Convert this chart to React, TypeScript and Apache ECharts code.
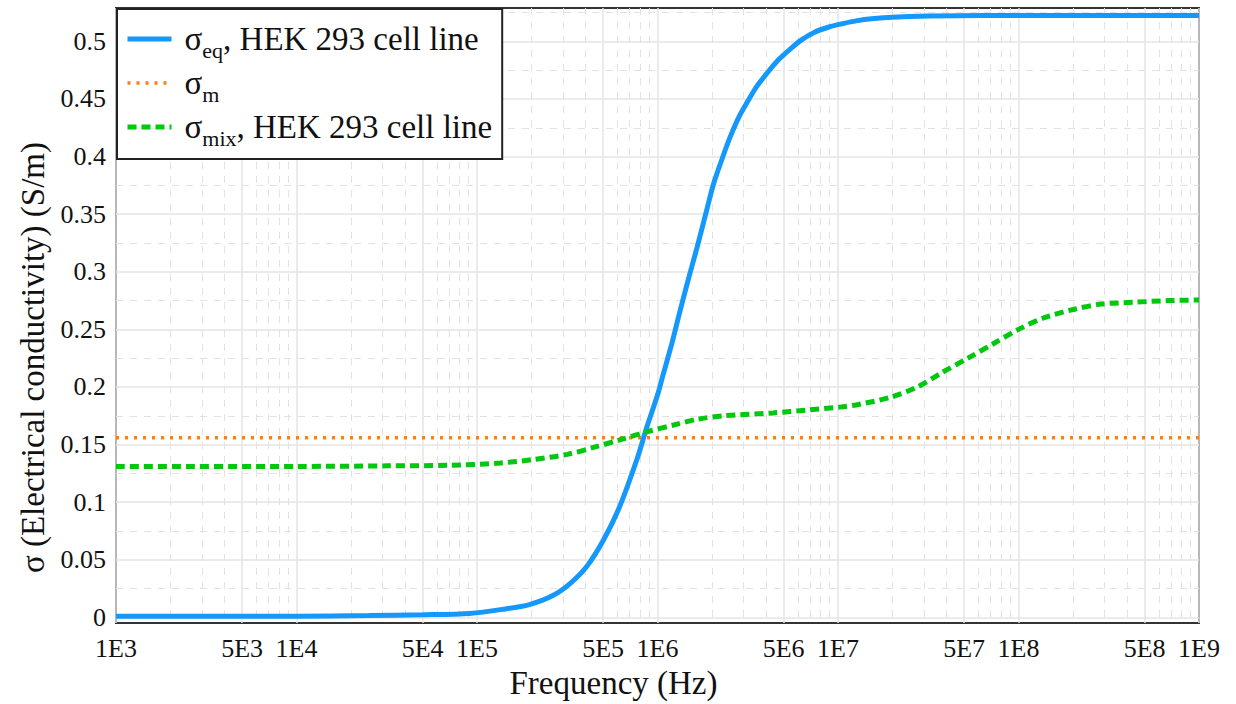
import React, { useEffect, useRef } from "react";
import * as echarts from "echarts";

// log10(frequency in Hz) and conductivity (S/m)
const logFreqEq = [3, 3.5, 4, 4.4, 4.7, 4.96, 5.14, 5.29, 5.42, 5.52, 5.61, 5.7, 5.79, 5.89, 5.94, 6.0, 6.03, 6.08, 6.12, 6.17, 6.22, 6.27, 6.31, 6.36, 6.4, 6.45, 6.5, 6.55, 6.61, 6.67, 6.74, 6.8, 6.87, 6.95, 7.02, 7.1, 7.2, 7.3, 7.5, 7.8, 8.2, 9];
const sigmaEq = [0.001, 0.001, 0.001, 0.0015, 0.0022, 0.0034, 0.0069, 0.0111, 0.0189, 0.03, 0.0446, 0.0669, 0.096, 0.139, 0.1647, 0.193, 0.21, 0.238, 0.263, 0.293, 0.3216, 0.352, 0.376, 0.399, 0.416, 0.434, 0.448, 0.461, 0.473, 0.484, 0.494, 0.5015, 0.508, 0.5125, 0.5152, 0.5178, 0.5198, 0.521, 0.522, 0.5225, 0.5225, 0.5225];

const logFreqMix = [3, 4, 4.5, 4.85, 5.13, 5.31, 5.5, 5.645, 5.79, 5.94, 6.09, 6.22, 6.37, 6.64, 6.83, 7.01, 7.12, 7.29, 7.44, 7.57, 7.72, 7.86, 8.0, 8.14, 8.31, 8.46, 8.64, 8.83, 9];
const sigmaMix = [0.131, 0.131, 0.1315, 0.132, 0.134, 0.137, 0.1415, 0.1475, 0.154, 0.161, 0.167, 0.172, 0.175, 0.1775, 0.18, 0.1825, 0.185, 0.191, 0.2, 0.212, 0.225, 0.2375, 0.25, 0.26, 0.2675, 0.272, 0.2735, 0.275, 0.2755];

const logFreqM = [3, 9];
const sigmaM = [0.156, 0.156];

const seriesNames = ["σeq, HEK 293 cell line", "σm", "σmix, HEK 293 cell line"];

const xMajorTicks = [3, 3.69897, 4, 4.69897, 5, 5.69897, 6, 6.69897, 7, 7.69897, 8, 8.69897, 9];
const xMajorLabels = ["1E3", "5E3", "1E4", "5E4", "1E5", "5E5", "1E6", "5E6", "1E7", "5E7", "1E8", "5E8", "1E9"];
const minorMantissas = [2, 3, 4, 6, 7, 8, 9];
const decades = [3, 4, 5, 6, 7, 8];
const xMinorTicks: number[] = [];
decades.forEach((d) => minorMantissas.forEach((m) => xMinorTicks.push(d + Math.log10(m))));

const yMajorTicks = [0, 0.05, 0.1, 0.15, 0.2, 0.25, 0.3, 0.35, 0.4, 0.45, 0.5];
const yMinorTicks = [0.025, 0.075, 0.125, 0.175, 0.225, 0.275, 0.325, 0.375, 0.425, 0.475, 0.525];

const FONT = "'Liberation Serif', 'Liberation Sans', sans-serif";

const BLUE = "#1598fb";
const ORANGE = "#ff7f0e";
const GREEN = "#00c80f";

const zip = (xs: number[], ys: number[]) => xs.map((x, i) => [x, ys[i]]);

export default function App() {
  const ref = useRef<HTMLDivElement>(null);
  useEffect(() => {
    if (!ref.current) return;
    const chart = echarts.init(ref.current, null, { renderer: "svg" });
    const majorGrid = { show: true, lineStyle: { color: "#e4e4e4", width: 1.5 } };
    const minorGrid = { show: true, lineStyle: { color: "#e2e2e2", width: 1, type: [7, 7] } };
    const legendRich: Record<string, string> = {
      [seriesNames[0]]: "{s|σ}{sub|eq}{s|, HEK 293 cell line}",
      [seriesNames[1]]: "{s|σ}{sub|m}",
      [seriesNames[2]]: "{s|σ}{sub|mix}{s|, HEK 293 cell line}",
    };
    chart.setOption({
      animation: false,
      backgroundColor: "#ffffff",
      textStyle: { fontFamily: FONT },
      grid: {
        left: 116,
        top: 8,
        width: 1083,
        height: 623,
        show: true,
        borderColor: "#333",
        borderWidth: 2,
        backgroundColor: "transparent",
        containLabel: false,
      },
      legend: {
        orient: "vertical",
        left: 117,
        top: 9,
        padding: [8, 10, 10, 8],
        itemGap: 0,
        itemWidth: 44,
        itemHeight: 14,
        backgroundColor: "#ffffff",
        borderColor: "#222",
        borderWidth: 2,
        borderRadius: 0,
        itemStyle: { opacity: 0 },
        data: [
          { name: seriesNames[0], lineStyle: { color: BLUE, width: 5 } },
          { name: seriesNames[1], lineStyle: { color: ORANGE, width: 3.5, type: [3, 6] } },
          { name: seriesNames[2], lineStyle: { color: GREEN, width: 5, type: [9, 5] } },
        ],
        formatter: (name: string) => legendRich[name],
        textStyle: {
          fontFamily: FONT,
          color: "#111",
          fontSize: 33,
          padding: [0, 0, 0, 8],
          rich: {
            s: { fontFamily: FONT, fontSize: 33, color: "#111", lineHeight: 36 },
            sub: { fontFamily: FONT, fontSize: 22, color: "#111", lineHeight: 36, padding: [22, 0, 0, 0] },
          },
        },
      },
      xAxis: [
        {
          type: "value",
          min: 3,
          max: 9,
          axisLine: { show: false },
          axisTick: { show: false, customValues: xMajorTicks },
          axisLabel: {
            customValues: xMajorTicks,
            formatter: (v: number) => {
              const i = xMajorTicks.findIndex((t) => Math.abs(t - v) < 1e-6);
              return i >= 0 ? xMajorLabels[i] : "";
            },
            fontFamily: FONT,
            fontSize: 26,
            color: "#111",
            margin: 12,
          },
          splitLine: majorGrid,
          name: "Frequency (Hz)",
          nameLocation: "middle",
          nameGap: 37,
          nameTextStyle: { fontFamily: FONT, fontSize: 33, color: "#111", padding: [0, 88, 0, 0] },
        },
        {
          type: "value",
          min: 3,
          max: 9,
          axisLine: { show: false },
          axisTick: { show: false, customValues: xMinorTicks },
          axisLabel: { show: false },
          splitLine: minorGrid,
        },
      ],
      yAxis: [
        {
          type: "value",
          min: -0.005,
          max: 0.529,
          axisLine: { show: false },
          axisTick: { show: false, customValues: yMajorTicks },
          axisLabel: {
            customValues: yMajorTicks,
            formatter: (v: number) => String(v),
            fontFamily: FONT,
            fontSize: 26,
            color: "#111",
            margin: 10,
          },
          splitLine: majorGrid,
          name: "σ (Electrical conductivity) (S/m)",
          nameLocation: "middle",
          nameGap: 66,
          nameTextStyle: { fontFamily: FONT, fontSize: 33, color: "#111", padding: [0, 84, 0, 0] },
        },
        {
          type: "value",
          min: -0.005,
          max: 0.529,
          axisLine: { show: false },
          axisTick: { show: false, customValues: yMinorTicks },
          axisLabel: { show: false },
          splitLine: minorGrid,
        },
      ],
      series: [
        {
          name: seriesNames[0],
          type: "line",
          data: zip(logFreqEq, sigmaEq),
          symbol: "none",
          smooth: 0.3,
          lineStyle: { color: BLUE, width: 5 },
          itemStyle: { color: BLUE },
          z: 3,
        },
        {
          name: seriesNames[1],
          type: "line",
          data: zip(logFreqM, sigmaM),
          symbol: "none",
          lineStyle: { color: ORANGE, width: 3.5, type: [3, 6] },
          itemStyle: { color: ORANGE },
          z: 2,
        },
        {
          name: seriesNames[2],
          type: "line",
          data: zip(logFreqMix, sigmaMix),
          symbol: "none",
          smooth: 0.3,
          lineStyle: { color: GREEN, width: 5, type: [9, 5] },
          itemStyle: { color: GREEN },
          z: 4,
        },
      ],
    });
    return () => chart.dispose();
  }, []);
  return (
    <div
      ref={ref}
      style={{ position: "fixed", left: 0, top: 0, width: 1236, height: 704, background: "#fff" }}
    />
  );
}
